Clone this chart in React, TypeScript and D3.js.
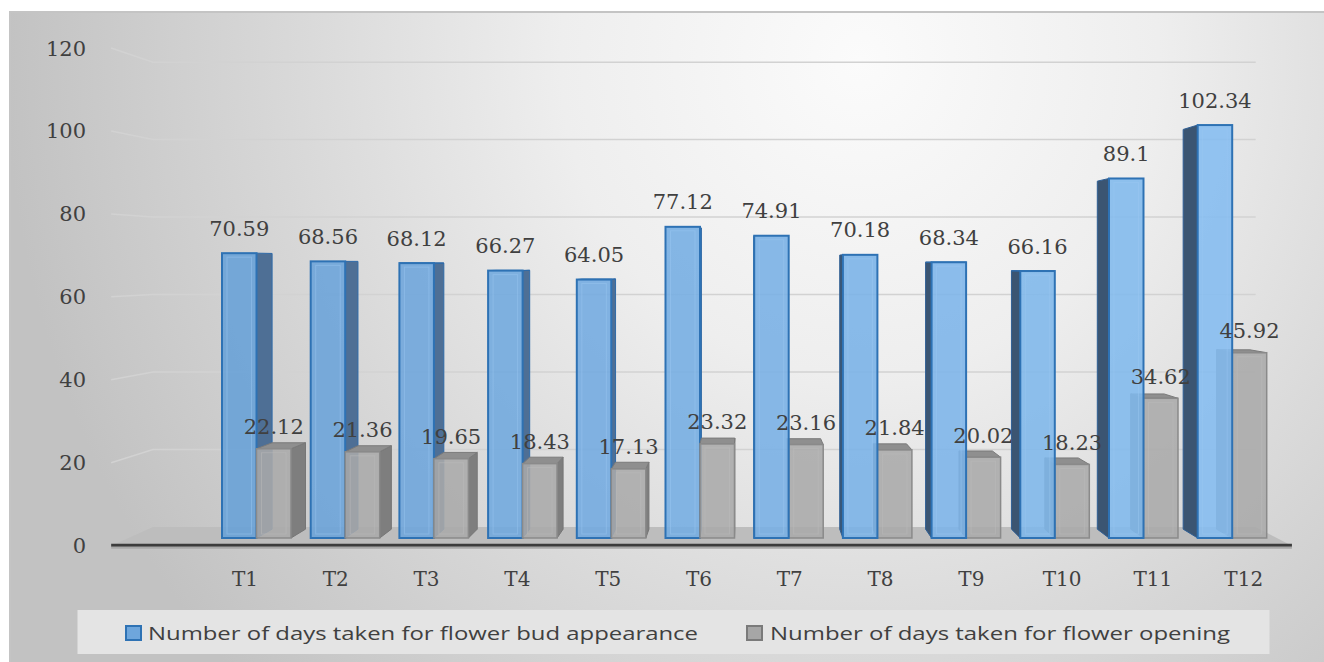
import React from "react";
import * as d3 from "d3";

const categories = ["T1", "T2", "T3", "T4", "T5", "T6", "T7", "T8", "T9", "T10", "T11", "T12"];
const budDays = [70.59, 68.56, 68.12, 66.27, 64.05, 77.12, 74.91, 70.18, 68.34, 66.16, 89.1, 102.34];
const openDays = [22.12, 21.36, 19.65, 18.43, 17.13, 23.32, 23.16, 21.84, 20.02, 18.23, 34.62, 45.92];
const yTicks = [0, 20, 40, 60, 80, 100, 120];
const seriesNames = [
  "Number of days taken for flower bud appearance",
  "Number of days taken for flower opening",
];

const W = 1324;
const H = 662;
const VX = 744; // vanishing point
const VY = 262;
const BACK = 0.968; // bar back plane scale
const WALL = 0.96; // back wall plane scale
const FRONT = 1.028; // floor front / side wall front plane scale
const WALL_LEFT = 128.4;
const WALL_RIGHT = 1277;

const P = (x: number, y: number, s: number): [number, number] => [VX + (x - VX) * s, VY + (y - VY) * s];
const poly = (pts: [number, number][]) => pts.map((p) => p[0].toFixed(2) + "," + p[1].toFixed(2)).join(" ");

const y = d3.scaleLinear().domain([0, 120]).range([538, 53.8]);
const x = d3.scaleBand<string>().domain(categories).range([222, 1266.7]).paddingInner(0.222);
const sub = d3.scaleBand<string>().domain(["bud", "open"]).range([0, x.bandwidth()]);
const blueShade = d3.scaleLinear<string>().domain([222, 1230]).range(["#67a0d7", "#84bcf0"]);

const serif = "'DejaVu Serif', serif";
const textColor = "#404040";

type BarSpec = { x0: number; x1: number; yTop: number; yBot: number; kind: "bud" | "open" };

function Bar({ b }: { b: BarSpec }) {
  const { x0, x1, yTop, yBot, kind } = b;
  const isBlue = kind === "bud";
  const faces: React.ReactNode[] = [];
  const sideRight = x1 < VX;
  const sideLeft = x0 > VX;
  const sideColor = isBlue ? (sideRight ? "#4e6f95" : "#3b5572") : "#7e7e7e";
  const topColor = isBlue ? "#5d8fc4" : "#8f8f8f";
  if (sideRight) {
    faces.push(
      <polygon key="sr" points={poly([P(x1, yTop, 1), P(x1, yTop, BACK), P(x1, yBot, BACK), P(x1, yBot, 1)])}
        fill={sideColor} stroke={isBlue ? "#2f6aa8" : "#767676"} strokeWidth={1} />
    );
  }
  if (sideLeft) {
    faces.push(
      <polygon key="sl" points={poly([P(x0, yTop, 1), P(x0, yTop, BACK), P(x0, yBot, BACK), P(x0, yBot, 1)])}
        fill={sideColor} stroke={isBlue ? "#2f5f95" : "#767676"} strokeWidth={1} />
    );
  }
  if (yTop > VY) {
    faces.push(
      <polygon key="t" points={poly([P(x0, yTop, 1), P(x1, yTop, 1), P(x1, yTop, BACK), P(x0, yTop, BACK)])}
        fill={topColor} stroke={isBlue ? "#2f6aa8" : "#7a7a7a"} strokeWidth={1} />
    );
  }
  const frontFill = isBlue ? blueShade((x0 + x1) / 2) : "#aaaaaa";
  const frontStroke = isBlue ? "#2e72b4" : "#8a8a8a";
  faces.push(
    <rect key="f" x={x0} y={yTop} width={x1 - x0} height={yBot - yTop}
      fill={frontFill} fillOpacity={0.88} stroke={frontStroke} strokeWidth={isBlue ? 2 : 1.5} />
  );
  faces.push(
    <rect key="fi" x={x0 + 5} y={yTop + 4} width={Math.max(0, x1 - x0 - 10)} height={Math.max(0, yBot - yTop - 8)}
      fill="none" stroke={isBlue ? "#9cc8f2" : "#bdbdbd"} strokeOpacity={0.45} strokeWidth={1} />
  );
  return <g>{faces}</g>;
}

export default function App() {
  const yBase = y(0);
  const groups = categories.map((c, i) => {
    const gx = x(c)!;
    const bud: BarSpec = { x0: gx + sub("bud")!, x1: gx + sub("bud")! + sub.bandwidth(), yTop: y(budDays[i]), yBot: yBase, kind: "bud" };
    const open: BarSpec = { x0: gx + sub("open")!, x1: gx + sub("open")! + sub.bandwidth(), yTop: y(openDays[i]), yBot: yBase, kind: "open" };
    const center = gx + x.bandwidth() / 2;
    const order = center < VX ? [bud, open] : [open, bud];
    return { c, i, bud, open, center, order };
  });

  const floorBackL = P(WALL_LEFT, yBase, WALL);
  const floorBackR = P(WALL_RIGHT, yBase, WALL);
  const floorFrontR = P(WALL_RIGHT, yBase, FRONT);
  const floorFrontL = P(WALL_LEFT, yBase, FRONT);

  return (
    <svg width={W} height={H} style={{ position: "absolute", left: 0, top: 0, display: "block" }}>
      <defs>
        <radialGradient id="bg" gradientUnits="userSpaceOnUse" cx={860} cy={60} r={900}
          gradientTransform="translate(860 60) scale(0.95 1) translate(-860 -60)">
          <stop offset="0" stopColor="#fbfbfb" />
          <stop offset="0.35" stopColor="#eeeeee" />
          <stop offset="0.7" stopColor="#d6d6d6" />
          <stop offset="1" stopColor="#c2c2c2" />
        </radialGradient>
      </defs>
      <rect x={0} y={0} width={W} height={H} fill="#ffffff" />
      <rect x={10} y={12} width={W - 9} height={H - 11} fill="url(#bg)" stroke="#c4c4c4" strokeWidth={2} />

      {/* back wall gridlines */}
      {yTicks.filter((t) => t > 0).map((t) => {
        const a = P(WALL_LEFT, y(t), FRONT);
        const b = P(WALL_LEFT, y(t), WALL);
        const c = P(WALL_RIGHT, y(t), WALL);
        return (
          <polyline key={t} points={poly([a, b, c])} fill="none" stroke="#d2d2d2" strokeWidth={1.5} />
        );
      })}

      {/* floor */}
      <polygon points={poly([floorBackL, floorBackR, floorFrontR, floorFrontL])} fill="#bdbdbd" />
      <line x1={floorFrontL[0]} y1={floorFrontL[1] - 0.5} x2={floorFrontR[0]} y2={floorFrontR[1] - 0.5} stroke="#3c3c3c" strokeWidth={3} />
      <line x1={floorFrontL[0]} y1={floorFrontL[1] + 2} x2={floorFrontR[0]} y2={floorFrontR[1] + 2} stroke="#a8a8a8" strokeWidth={2} />

      {/* y-axis labels */}
      {yTicks.map((t) => {
        const p = P(WALL_LEFT, y(t), FRONT);
        return (
          <text key={t} x={86} y={p[1]} dy="0.36em" textAnchor="end" fontFamily={serif} fontSize={21} fill={textColor}>
            {t}
          </text>
        );
      })}

      {/* bars */}
      {groups.map((g) => (
        <g key={g.c}>
          {g.order.map((b) => (
            <Bar key={b.kind} b={b} />
          ))}
        </g>
      ))}

      {/* data labels */}
      {groups.map((g) => (
        <g key={"l" + g.c} fontFamily={serif} fontSize={21} fill={textColor} textAnchor="middle">
          <text x={(g.open.x0 + g.open.x1) / 2} y={g.open.yTop - 22} dy="0.36em">{openDays[g.i]}</text>
          <text x={(g.bud.x0 + g.bud.x1) / 2} y={g.bud.yTop - 25} dy="0.36em">{budDays[g.i]}</text>
        </g>
      ))}

      {/* category labels */}
      {groups.map((g) => {
        const p = P(g.center, yBase, 1.0236);
        return (
          <text key={"c" + g.c} x={p[0]} y={floorFrontL[1] + 33} dy="0.36em" textAnchor="middle" fontFamily={serif} fontSize={20} fill={textColor}>
            {g.c}
          </text>
        );
      })}

      {/* legend */}
      <rect x={77.5} y={610} width={1192} height={44} fill="#e4e4e4" />
      <rect x={126} y={626} width={15} height={14} fill="#6ea6dc" stroke="#2e72b4" strokeWidth={2} />
      <text x={148} y={639.5} fontFamily="'Liberation Sans Narrow', 'Open Sans', sans-serif" fontSize={19} fill={textColor}
        textLength={550} lengthAdjust="spacingAndGlyphs">{seriesNames[0]}</text>
      <rect x={747} y={626} width={15} height={14} fill="#a6a6a6" stroke="#7a7a7a" strokeWidth={2} />
      <text x={770} y={639.5} fontFamily="'Liberation Sans Narrow', 'Open Sans', sans-serif" fontSize={19} fill={textColor}
        textLength={460} lengthAdjust="spacingAndGlyphs">{seriesNames[1]}</text>
    </svg>
  );
}
